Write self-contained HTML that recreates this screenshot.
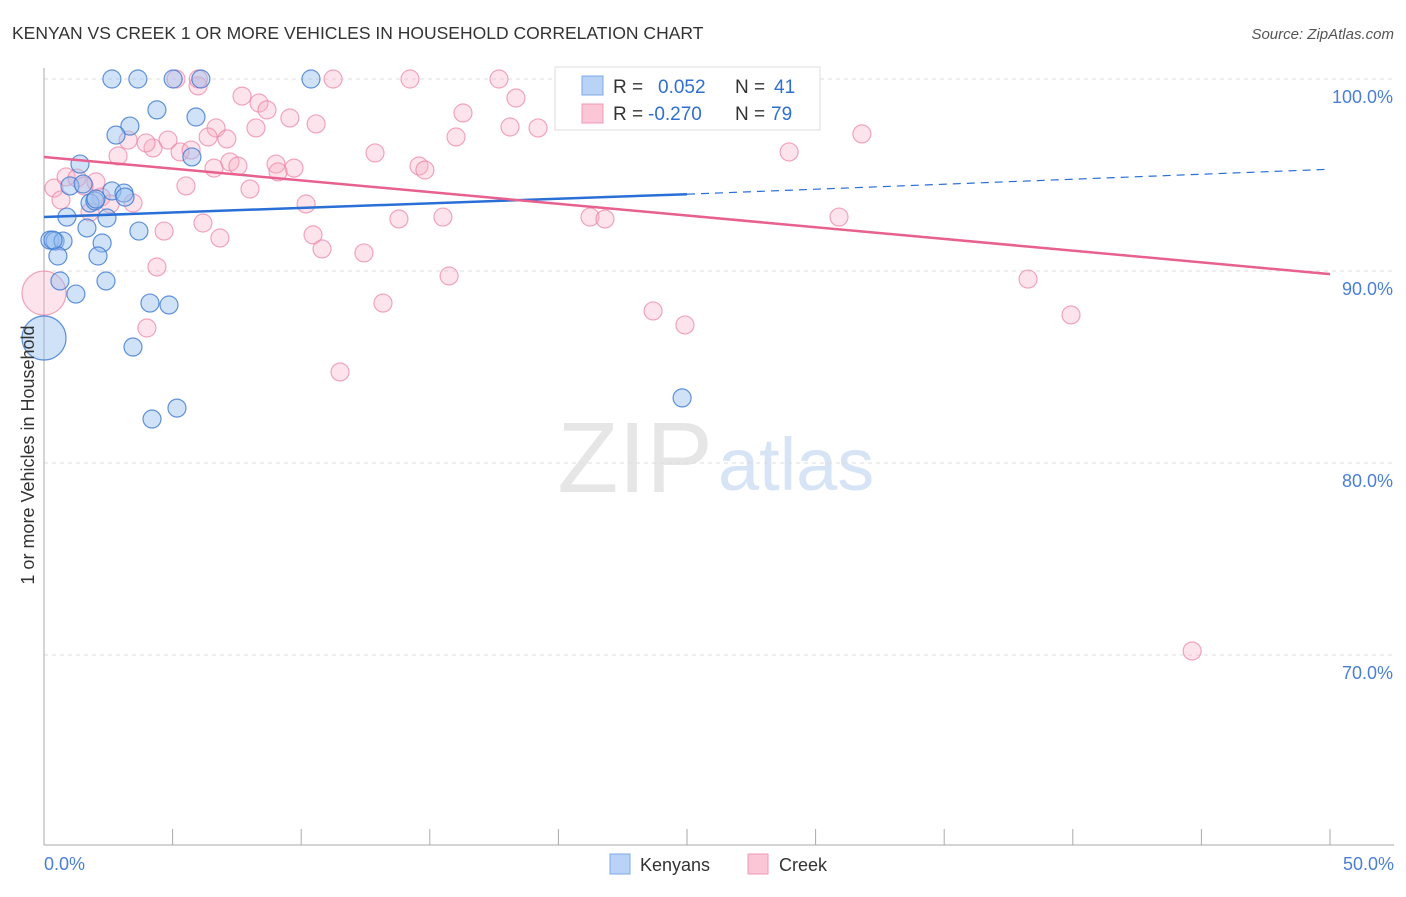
<!DOCTYPE html>
<html><head><meta charset="utf-8"><style>
body{margin:0;background:#fff;font-family:"Liberation Sans",sans-serif;}
svg text{font-family:"Liberation Sans",sans-serif;}
</style></head><body>
<svg id="chart" width="1406" height="892">
<text x="12" y="39" font-size="17.5" fill="#333">KENYAN VS CREEK 1 OR MORE VEHICLES IN HOUSEHOLD CORRELATION CHART</text>
<text x="1394" y="39" font-size="15" fill="#555" text-anchor="end" font-style="italic">Source: ZipAtlas.com</text>
<text x="635" y="492" font-size="100" fill="#e6e6e6" font-family="Liberation Serif" text-anchor="middle">ZIP</text>
<text x="718" y="490" font-size="74" fill="#d6e4f5" text-anchor="start">atlas</text>
<g id="grid"></g><g id="marks"></g><g id="lines"></g>
<text transform="translate(34,455) rotate(-90)" font-size="18" fill="#333" text-anchor="middle">1 or more Vehicles in Household</text>
<g>
<rect x="555" y="67" width="265" height="63" fill="#fff" stroke="#ddd"/>
<rect x="582" y="76" width="21" height="19" fill="#b8d3f5" stroke="#7eaae6"/>
<rect x="582" y="104" width="21" height="19" fill="#fbc6d6" stroke="#f09ab6"/>
<text x="613" y="93" font-size="19" fill="#333">R =</text><text x="658" y="93" font-size="19" fill="#2f6fd0">0.052</text>
<text x="735" y="93" font-size="19" fill="#333">N =</text><text x="774" y="93" font-size="19" fill="#2f6fd0">41</text>
<text x="613" y="120" font-size="19" fill="#333">R =</text><text x="648" y="120" font-size="19" fill="#2f6fd0">-0.270</text>
<text x="735" y="120" font-size="19" fill="#333">N =</text><text x="771" y="120" font-size="19" fill="#2f6fd0">79</text>
</g>
<g>
<rect x="610" y="854" width="20" height="20" fill="#b8d3f5" stroke="#7eaae6"/>
<text x="640" y="871" font-size="18" fill="#333">Kenyans</text>
<rect x="748" y="854" width="20" height="20" fill="#fbc6d6" stroke="#f09ab6"/>
<text x="779" y="871" font-size="18" fill="#333">Creek</text>
</g>
</svg>
<script>
const yTicks=[100,90,80,70];
const xTickLabels=["0.0%","50.0%"];
const blueX=[2.64,3.65,5.02,6.10,10.38,24.42,4.39,5.91,3.34,2.80,5.75,1.40,1.01,1.52,2.64,3.11,3.15,1.79,1.98,0.89,2.45,1.67,3.69,0.23,0.43,0.74,2.26,0.54,2.10,0.62,2.41,1.24,4.12,4.86,3.46,0,4.20,5.17,24.81,2.02,0.35];
const blueY=[100,100,100,100,100,100,98.39,98.02,97.55,97.08,95.94,95.57,94.43,94.53,94.17,94.06,93.85,93.54,93.65,92.81,92.76,92.24,92.08,91.61,91.56,91.56,91.46,90.78,90.78,89.48,89.48,88.80,88.33,88.23,86.04,86.51,82.29,82.86,83.39,93.75,91.61];
const pinkX=[5.13,11.24,14.23,17.69,5.99,7.70,8.36,8.67,9.56,10.58,6.69,8.24,16.29,18.35,20.41,23.21,16.02,18.12,19.21,31.80,28.97,2.88,3.27,4.24,4.82,6.38,7.11,5.29,5.72,6.61,7.23,7.54,9.02,9.72,9.10,12.87,14.58,14.81,5.52,8.01,2.02,0.39,0.86,1.28,1.56,0.66,2.22,2.57,3.46,10.19,13.80,15.51,21.23,21.81,30.91,6.18,4.67,6.84,10.46,10.81,12.44,4.39,15.75,13.18,4.00,11.51,23.68,24.92,38.26,39.93,44.64,0,1.79,3.97,20.92,23.37,21.61,27.26,6.0];
const pinkY=[100,100,100,100,99.64,99.11,98.75,98.39,97.97,97.66,97.45,97.45,98.23,99.01,98.96,98.96,96.98,97.50,97.45,97.14,96.20,95.99,96.82,96.41,96.82,96.98,96.88,96.20,96.30,95.36,95.68,95.47,95.57,95.36,95.16,96.15,95.47,95.26,94.43,94.27,94.64,94.32,94.90,94.84,94.43,93.70,93.85,93.49,93.54,93.49,92.71,92.81,92.81,92.71,92.81,92.50,92.08,91.72,91.88,91.15,90.94,90.21,89.74,88.33,87.03,84.74,87.92,87.19,89.58,87.71,70.21,88.85,93.07,96.67,99.95,99.11,98.39,98.80,100];
const blueTrend=[92.81,94.0,95.3]; // at x=0, 25, 50
const pinkTrend=[95.94,89.84]; // at x=0, 50
const NS="http://www.w3.org/2000/svg";
const sx=v=>44+v/50*1286, sy=v=>79+(100-v)*19.2;
function mk(t,a,p){const e=document.createElementNS(NS,t);for(const k in a)e.setAttribute(k,a[k]);document.getElementById(p).appendChild(e);return e;}
yTicks.forEach(v=>{
 const l=mk('line',{x1:44,x2:1394,y1:sy(v),y2:sy(v),stroke:'#ddd','stroke-dasharray':'4,4'},'grid');
 
 
 const t=mk('text',{x:1393,y:sy(v)+24,'font-size':18,fill:'#4a7fd6','text-anchor':'end'},'grid');t.textContent=v.toFixed(1)+'%';
 
 
});
mk('line',{x1:44,x2:44,y1:68,y2:845,stroke:'#aaa'},'grid');
mk('line',{x1:44,x2:1394,y1:845,y2:845,stroke:'#aaa'},'grid');
for(let i=0;i<=10;i++){const x=sx(i*5);const l=mk('line',{x1:x,x2:x,y1:829,y2:845,stroke:'#aaa'},'grid');
 
 }
[[0,'start',44],[50,'end',1394]].forEach((d,i)=>{const t=mk('text',{x:d[2],y:870,'font-size':18,fill:'#4a7fd6','text-anchor':d[1]},'grid');t.textContent=xTickLabels[i];
 
 });
function dots(X,Y,fill,stroke,name){X.forEach((x,i)=>{const big=(x===0);const c=mk('circle',{cx:sx(x),cy:sy(Y[i]),r:big?22:9,fill:fill,stroke:stroke,'stroke-width':1.2},'marks');
 
 });}
dots(pinkX,pinkY,'rgba(248,175,198,0.35)','rgba(235,130,165,0.7)','creek-point');
dots(blueX,blueY,'rgba(150,190,240,0.45)','rgba(60,120,210,0.8)','kenyan-point');
let l=mk('line',{x1:sx(0),y1:sy(blueTrend[0]),x2:sx(25),y2:sy(blueTrend[1]),stroke:'#2a6fd6','stroke-width':2.5},'lines');


l=mk('line',{x1:sx(25),y1:sy(blueTrend[1]),x2:sx(50),y2:sy(blueTrend[2]),stroke:'#2a6fd6','stroke-width':1.2,'stroke-dasharray':'8,6'},'lines');


l=mk('line',{x1:sx(0),y1:sy(pinkTrend[0]),x2:sx(50),y2:sy(pinkTrend[1]),stroke:'#e8608e','stroke-width':2.5},'lines');


</script>
</body></html>
